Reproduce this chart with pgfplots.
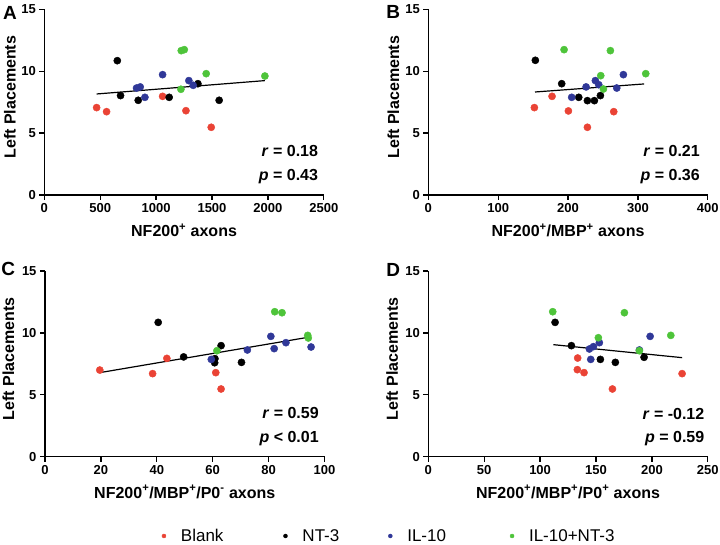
\documentclass[border=0pt]{standalone}
\usepackage{fontspec}
\setmainfont{Liberation Sans}
\usepackage{pgfplots}
\pgfplotsset{compat=1.18}
\definecolor{cblank}{RGB}{234,67,53}
\definecolor{cnt}{RGB}{0,0,0}
\definecolor{cil}{RGB}{48,56,152}
\definecolor{cboth}{RGB}{78,196,58}

\pgfplotsset{
  panel/.style={
    scale only axis, width=279.5pt, height=185.7pt,
    axis lines=left, axis line style={-, line width=1.3pt},
    ymin=0, ymax=15, ytick={0,5,10,15},
    tick align=outside, major tick length=5pt,
    tick style={line width=1.3pt, black},
    /pgf/number format/assume math mode=true,
    /pgf/number format/1000 sep={},
    tick label style={font=\bfseries\fontsize{13}{13}\selectfont},
    label style={font=\bfseries\fontsize{16}{16}\selectfont},
    ylabel={Left Placements},
    clip=false,
  },
  dot/.style={only marks, mark=*, mark size=3.6pt, color=#1, mark options={draw=#1, fill=#1}},
  trend/.style={black, line width=1.2pt, no marks},
}
\tikzset{stat/.style={anchor=east, font=\bfseries\fontsize{16}{16}\selectfont}}

\begin{document}
\begin{tikzpicture}
\useasboundingbox (0,0) rectangle (720pt,544pt);

% A: NF200+ axons
\begin{axis}[panel, at={(44.3pt,349pt)}, anchor=south west,
  xmin=0, xmax=2500, xtick={0,500,...,2500},
  xlabel={NF200\textsuperscript{+} axons},
  xlabel style={at={(axis description cs:0.5,-0.19)}, anchor=center},
  ylabel style={at={(axis description cs:-0.123,0.527)}, anchor=center}]
\addplot[dot=cblank] coordinates {(468,7.06)(557,6.73)(1058,7.97)(1267,6.81)(1493,5.47)};
\addplot[dot=cnt] coordinates {(653,10.85)(682,8.03)(840,7.65)(1117,7.89)(1374,8.99)(1564,7.65)};
\addplot[dot=cil] coordinates {(825,8.64)(858,8.73)(900,7.89)(1058,9.72)(1293,9.24)(1332,8.86)};
\addplot[dot=cboth] coordinates {(1225,11.66)(1252,11.74)(1222,8.54)(1448,9.80)(1973,9.61)};
\addplot[trend] coordinates {(468,8.16)(1973,9.24)};
\node[stat] at (axis description cs:0.992,0.239) {\textit{r} = 0.18};
\node[stat] at (axis description cs:0.992,0.099) {\textit{p} = 0.43};
\end{axis}

% B: NF200+/MBP+ axons
\begin{axis}[panel, at={(428.3pt,349pt)}, anchor=south west,
  xmin=0, xmax=400, xtick={0,100,...,400},
  xlabel={NF200\textsuperscript{+}/MBP\textsuperscript{+} axons},
  xlabel style={at={(axis description cs:0.5,-0.19)}, anchor=center},
  ylabel style={at={(axis description cs:-0.125,0.527)}, anchor=center}]
\addplot[dot=cblank] coordinates {(151.8,7.06)(177.1,7.97)(200.5,6.79)(227.7,5.47)(265.4,6.73)};
\addplot[dot=cnt] coordinates {(153.2,10.88)(190.9,8.99)(215.3,7.89)(227.7,7.62)(237.7,7.62)(246.3,8.03)};
\addplot[dot=cil] coordinates {(205.2,7.89)(225.8,8.73)(239.1,9.24)(243.9,8.91)(269.7,8.64)(279.2,9.72)};
\addplot[dot=cboth] coordinates {(194.3,11.74)(260.6,11.66)(246.8,9.64)(250.6,8.56)(311.2,9.80)};
\addplot[trend] coordinates {(152.7,8.32)(308.8,8.97)};
\node[stat] at (axis description cs:0.984,0.239) {\textit{r} = 0.21};
\node[stat] at (axis description cs:0.984,0.099) {\textit{p} = 0.36};
\end{axis}

% C: NF200+/MBP+/P0- axons
\begin{axis}[panel, at={(45pt,87.3pt)}, anchor=south west,
  xmin=0, xmax=100, xtick={0,20,...,100},
  xlabel={NF200\textsuperscript{+}/MBP\textsuperscript{+}/P0\textsuperscript{-} axons},
  xlabel style={at={(axis description cs:0.5,-0.19)}, anchor=center},
  ylabel style={at={(axis description cs:-0.131,0.527)}, anchor=center},
  legend columns=4,
  legend style={at={(axis description cs:0.407,-0.427)}, anchor=west, draw=none,
    font=\fontsize{17}{17}\selectfont,
    /tikz/every odd column/.append style={column sep=13pt},
    /tikz/column 2/.style={column sep=58pt},
    /tikz/column 4/.style={column sep=47pt},
    /tikz/column 6/.style={column sep=62pt}},
  legend image code/.code={\draw[#1] plot coordinates {(0pt,0pt)};}]
\addplot[dot=cblank, forget plot] coordinates {(19.6,7.00)(38.5,6.71)(43.6,7.94)(61.1,6.79)(63.0,5.47)};
\addplot[dot=cnt, forget plot] coordinates {(40.5,10.85)(49.6,8.06)(60.8,7.92)(60.7,7.59)(63.0,8.97)(70.3,7.62)};
\addplot[dot=cil, forget plot] coordinates {(59.5,7.86)(72.4,8.62)(80.8,9.72)(82.0,8.73)(86.2,9.21)(95.2,8.86)};
\addplot[dot=cboth, forget plot] coordinates {(61.5,8.56)(82.2,11.71)(84.8,11.63)(94.0,9.80)(94.2,9.59)};
\addplot[trend, forget plot] coordinates {(19.6,6.79)(94.0,9.64)};
\node[stat] at (axis description cs:0.992,0.234) {\textit{r} = 0.59};
\node[stat] at (axis description cs:0.992,0.095) {\textit{p} < 0.01};
\addlegendimage{only marks, mark=*, mark size=2pt, cblank}
\addlegendentry{Blank}
\addlegendimage{only marks, mark=*, mark size=2pt, cnt}
\addlegendentry{NT-3}
\addlegendimage{only marks, mark=*, mark size=2pt, cil}
\addlegendentry{IL-10}
\addlegendimage{only marks, mark=*, mark size=2pt, cboth}
\addlegendentry{IL-10+NT-3}
\end{axis}

% D: NF200+/MBP+/P0+ axons
\begin{axis}[panel, at={(428.3pt,87.3pt)}, anchor=south west,
  xmin=0, xmax=250, xtick={0,50,...,250},
  xlabel={NF200\textsuperscript{+}/MBP\textsuperscript{+}/P0\textsuperscript{+} axons},
  xlabel style={at={(axis description cs:0.5,-0.19)}, anchor=center},
  ylabel style={at={(axis description cs:-0.129,0.527)}, anchor=center}]
\addplot[dot=cblank] coordinates {(133.3,7.03)(133.6,7.97)(139.3,6.79)(164.7,5.47)(227.0,6.71)};
\addplot[dot=cnt] coordinates {(113.4,10.85)(128.0,8.97)(153.9,7.86)(167.3,7.62)(193.0,8.03)};
\addplot[dot=cil] coordinates {(144.1,8.70)(147.7,8.89)(153.0,9.21)(145.3,7.86)(188.8,8.62)(198.4,9.72)};
\addplot[dot=cboth] coordinates {(111.3,11.71)(175.4,11.63)(152.1,9.61)(188.8,8.56)(216.9,9.80)};
\addplot[trend] coordinates {(111.9,9.05)(227.0,8.00)};
\node[stat] at (axis description cs:1.0,0.23) {\textit{r} = -0.12};
\node[stat] at (axis description cs:1.0,0.099) {\textit{p} = 0.59};
\end{axis}

% panel letters
\node[font=\bfseries\fontsize{19}{19}\selectfont] at (10pt,530.7pt) {A};
\node[font=\bfseries\fontsize{19}{19}\selectfont] at (393.3pt,532.3pt) {B};
\node[font=\bfseries\fontsize{19}{19}\selectfont] at (8.3pt,274.7pt) {C};
\node[font=\bfseries\fontsize{19}{19}\selectfont] at (393.3pt,274pt) {D};
\end{tikzpicture}
\end{document}
